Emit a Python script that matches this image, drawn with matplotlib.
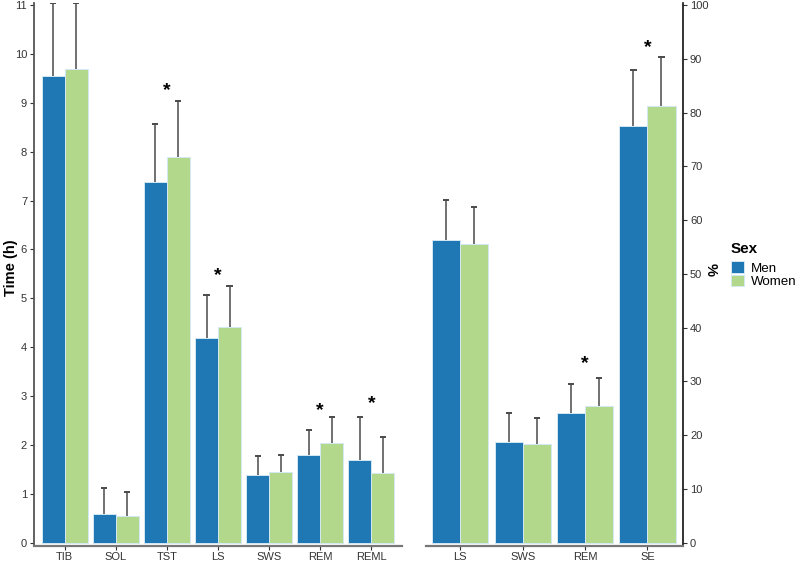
import matplotlib
matplotlib.use("Agg")
import matplotlib.pyplot as plt
import numpy as np
from matplotlib.patches import Patch

plt.rcParams['font.family'] = ['Liberation Sans', 'DejaVu Sans']

# ---- data: left panel (hours) ----
time_cats = ["TIB", "SOL", "TST", "LS", "SWS", "REM", "REML"]
time_men = [9.54, 0.59, 7.37, 4.19, 1.38, 1.80, 1.70]
time_women = [9.68, 0.54, 7.89, 4.41, 1.44, 2.04, 1.42]
time_men_sd = [1.50, 0.54, 1.20, 0.87, 0.39, 0.50, 0.87]
time_women_sd = [1.36, 0.49, 1.14, 0.84, 0.36, 0.53, 0.75]
time_sig = [False, False, True, True, False, True, True]
time_star_y = [0, 0, 9.25, 5.46, 0, 2.70, 2.84]

# ---- data: right panel (%) ----
pct_cats = ["LS", "SWS", "REM", "SE"]
pct_men = [56.3, 18.7, 24.1, 77.5]
pct_women = [55.5, 18.3, 25.5, 81.3]
pct_men_sd = [7.5, 5.4, 5.4, 10.5]
pct_women_sd = [6.9, 5.0, 5.1, 9.1]
pct_sig = [False, False, True, True]
pct_star_y = [0, 0, 33.3, 92.2]

sexes = ["Men", "Women"]
colors = ["#1f78b4", "#b2d98b"]
edge = "#d4e8f4"
errc = "#4a4a4a"

W, H = 800, 565
fig = plt.figure(figsize=(W / 100, H / 100), dpi=100)

def px_axes(x0, x1, ytop, ybot):
    return fig.add_axes([x0 / W, (H - ybot) / H, (x1 - x0) / W, (ybot - ytop) / H])

ax1 = px_axes(34, 402, 3, 546)
ax2 = px_axes(426, 683, 3, 546)

def draw(ax, cats, men, women, msd, wsd, sig, stary, capw):
    x = np.arange(len(cats))
    bw = 0.45
    for vals, sds, off, col in [(men, msd, -bw / 2, colors[0]), (women, wsd, bw / 2, colors[1])]:
        vals = np.array(vals)
        sds = np.array(sds)
        ax.vlines(x + off, vals, vals + sds, color=errc, lw=1.1, zorder=1)
        ax.hlines(vals + sds, x + off - capw / 2, x + off + capw / 2, color=errc, lw=1.4, zorder=1)
        ax.bar(x + off, vals, width=bw, color=col, edgecolor=edge, linewidth=0.7, zorder=2)
    for i, s in enumerate(sig):
        if s:
            ax.text(x[i], stary[i], "*", ha="center", va="center", fontsize=14,
                    fontweight="bold", color="black")
    ax.set_xticks(x)
    ax.set_xticklabels(cats, fontsize=8, color="#333333")
    ax.tick_params(axis="x", length=3, width=0.8, colors="#333333", pad=1.5)

draw(ax1, time_cats, time_men, time_women, time_men_sd, time_women_sd, time_sig, time_star_y, 0.12)
ax1.set_xlim(-0.6, len(time_cats) - 1 + 0.6)
ax1.set_ylim(-0.065, 11.04)
ax1.set_yticks(np.arange(0, 12, 1))
ax1.tick_params(axis="y", labelsize=8, length=3, width=0.8, colors="#333333", pad=2)
ax1.set_ylabel("Time (h)", fontsize=10.5, fontweight="bold", va="center")
ax1.yaxis.set_label_coords(-23 / 368, 0.512)
for s in ["top", "right"]:
    ax1.spines[s].set_visible(False)
ax1.spines["left"].set_color("#555555")
ax1.spines["left"].set_linewidth(1.3)
ax1.spines["bottom"].set_color("#777777")
ax1.spines["bottom"].set_linewidth(1.6)

draw(ax2, pct_cats, pct_men, pct_women, pct_men_sd, pct_women_sd, pct_sig, pct_star_y, 0.10)
ax2.set_xlim(-0.55, len(pct_cats) - 1 + 0.57)
ax2.set_ylim(-0.6, 100.4)
ax2.set_yticks(np.arange(0, 101, 10))
ax2.yaxis.tick_right()
ax2.yaxis.set_label_position("right")
ax2.tick_params(axis="y", labelsize=8, length=3, width=0.8, colors="#333333", pad=2)
ax2.set_ylabel("%", fontsize=10.5, fontweight="bold", rotation=-90, va="center")
ax2.yaxis.set_label_coords(1 + 28 / 257, 0.51)
for s in ["top", "left"]:
    ax2.spines[s].set_visible(False)
ax2.spines["right"].set_color("#111111")
ax2.spines["right"].set_linewidth(1.2)
ax2.spines["bottom"].set_color("#777777")
ax2.spines["bottom"].set_linewidth(1.6)

fig.text(731 / W, 1 - 249 / H, "Sex", fontsize=11, fontweight="bold", ha="left", va="center")
handles = [Patch(facecolor=c, edgecolor=edge, linewidth=0.7) for c in colors]
leg = fig.legend(handles, sexes, loc="upper left",
                 bbox_to_anchor=(731 / W, 1 - 261 / H), frameon=False,
                 fontsize=9.6, handlelength=1.0, handleheight=1.0,
                 handletextpad=0.5, labelspacing=0.0, borderaxespad=0, borderpad=0)

fig.savefig("out.png", dpi=100)
